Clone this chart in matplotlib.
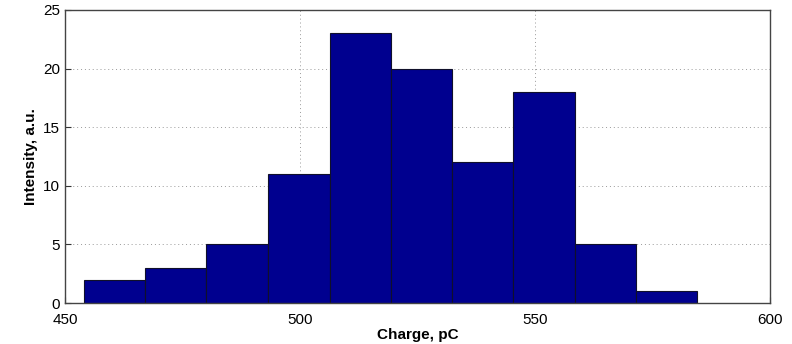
import numpy as np
import matplotlib
matplotlib.use("Agg")
import matplotlib.pyplot as plt

plt.rcParams['font.family'] = ['Liberation Sans', 'DejaVu Sans']

# histogram bin edges (pC) and counts
bin_edges = [454.0, 467.1, 480.1, 493.2, 506.3, 519.3, 532.4, 545.4, 558.5, 571.5, 584.6]
counts = [2, 3, 5, 11, 23, 20, 12, 18, 5, 1]
x_ticks = [450, 500, 550, 600]
y_ticks = [0, 5, 10, 15, 20, 25]

fig = plt.figure(figsize=(7.92, 3.44), dpi=100)
ax = fig.add_axes([0.082, 0.119, 0.89, 0.852])

edges = np.array(bin_edges)
ax.bar(edges[:-1], counts, width=np.diff(edges), align='edge',
       color='#00008f', edgecolor='#10102a', linewidth=0.8, zorder=2)

ax.set_xlim(450, 600)
ax.set_ylim(0, 25)
ax.set_xticks(x_ticks)
ax.set_yticks(y_ticks)
ax.grid(True, linestyle=(0, (1, 3)), color='#999999', linewidth=0.7, zorder=0)
ax.tick_params(direction='in', length=4, labelsize=11, color='#333333')
ax.tick_params(axis='x', pad=7)
for s in ax.spines.values():
    s.set_color('#444444')
    s.set_linewidth(1.0)

ax.set_xlabel('Charge, pC', fontsize=11, fontweight='bold', labelpad=1)
ax.set_ylabel('Intensity, a.u.', fontsize=11, fontweight='bold', labelpad=4)

fig.savefig('out.png', dpi=100)
